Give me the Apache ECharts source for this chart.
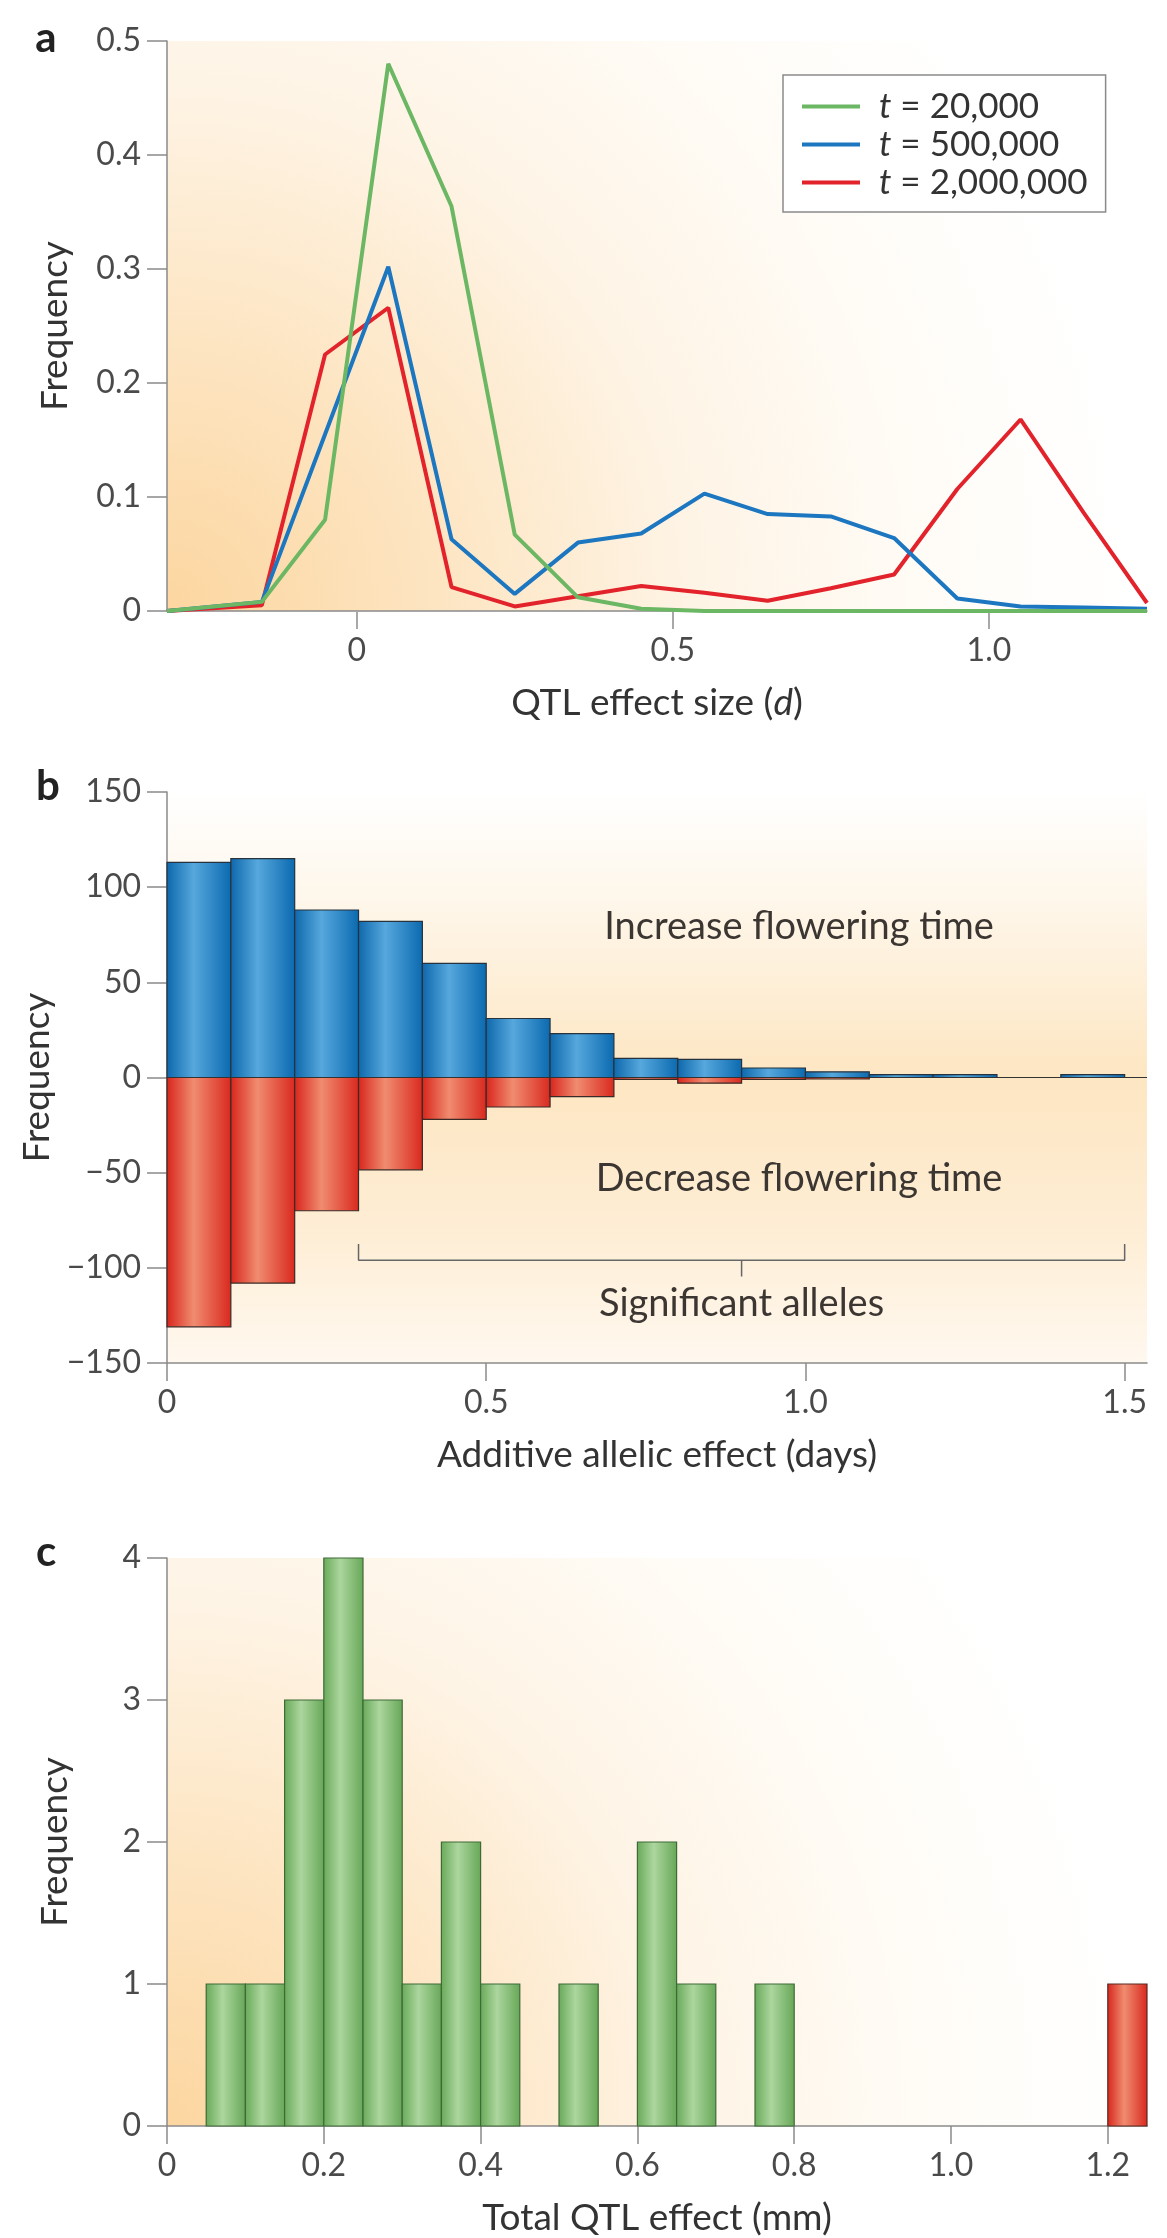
<!DOCTYPE html>
<html>
<head>
<meta charset="utf-8">
<title>QTL effect distributions</title>
<script src="https://cdn.jsdelivr.net/npm/echarts@6/dist/echarts.min.js"></script>
<style>
  html, body { margin: 0; padding: 0; background: #fff; }
  #chart { width: 1167px; height: 2238px; }
</style>
</head>
<body>
<div id="chart"></div>
<script>
// a: frequency of QTL effect sizes at three time points (bin centres)
var effectSize = [-0.3, -0.15, -0.05, 0.05, 0.15, 0.25, 0.35, 0.45, 0.55, 0.65, 0.75, 0.85, 0.95, 1.05, 1.15, 1.25];
var freqT20k  = [0, 0.008, 0.08, 0.48, 0.355, 0.067, 0.012, 0.002, 0, 0, 0, 0, 0, 0, 0, 0];
var freqT500k = [0, 0.008, 0.155, 0.302, 0.063, 0.015, 0.06, 0.068, 0.103, 0.085, 0.083, 0.064, 0.011, 0.004, 0.003, 0.002];
var freqT2m   = [0, 0.005, 0.225, 0.266, 0.021, 0.004, 0.013, 0.022, 0.016, 0.009, 0.02, 0.032, 0.107, 0.168, 0.086, 0.007];
var seriesNames = ['t = 20,000', 't = 500,000', 't = 2,000,000'];

// b: additive allelic effect histogram (bin start, width 0.1)
var allelicBinStart = [0, 0.1, 0.2, 0.3, 0.4, 0.5, 0.6, 0.7, 0.8, 0.9, 1.0, 1.1, 1.2, 1.3, 1.4];
var increaseCount = [113, 115, 88, 82, 60, 31, 23, 10, 9.5, 5, 3, 1.5, 1.5, 0, 1.5];
var decreaseCount = [-131, -108, -70, -48.5, -22, -15.5, -10, -1, -3, -1, -0.8, 0, 0, 0, 0];
var allelicBinWidth = 0.1;

// b: annotations
var noteText = ['Increase flowering time', 'Decrease flowering time', 'Significant alleles'];
var noteX = [0.99, 0.99, 0.9];
var noteY = [79, -53, -119];
var bracketX = [0.3, 0.3, 1.5, 1.5];
var bracketY = [-87.5, -96, -96, -87.5];
var bracketMidX = [0.9, 0.9];
var bracketMidY = [-96, -104.5];

// c: total QTL effect histogram (bin start, width 0.05)
var totalBinStart = [0.05, 0.1, 0.15, 0.2, 0.25, 0.3, 0.35, 0.4, 0.5, 0.6, 0.65, 0.75];
var totalCount = [1, 1, 3, 4, 3, 1, 2, 1, 1, 2, 1, 1];
var outlierBinStart = [1.2];
var outlierCount = [1];
var totalBinWidth = 0.05;

var FONT = 'Lato';
var axisGrey = '#8a8a8a';
var labelGrey = '#4a4a4a';

function pairs(xs, ys) {
  return xs.map(function (x, i) { return [x, ys[i]]; });
}

function barGradient(edge, mid, edge2) {
  return new echarts.graphic.LinearGradient(0, 0, 1, 0, [
    {offset: 0, color: edge},
    {offset: 0.42, color: mid},
    {offset: 1, color: edge2}
  ]);
}

// histogram bars drawn through the axis scales
function histogram(width, fill, stroke) {
  return function (params, api) {
    var x0 = api.value(0), v = api.value(1);
    if (!v) return;
    var p0 = api.coord([x0, 0]);
    var p1 = api.coord([x0 + width, v]);
    return {
      type: 'rect',
      shape: {x: p0[0], y: Math.min(p0[1], p1[1]), width: p1[0] - p0[0], height: Math.abs(p1[1] - p0[1])},
      style: {fill: fill, stroke: stroke, lineWidth: 1.2}
    };
  };
}

function fixed1(v) { return v === 0 ? '0' : v.toFixed(1); }
function minusFmt(v) { return v < 0 ? '\u2212' + (-v) : String(v); }

// peach glow from the lower-left corner of a plot
function peachCorner() {
  return new echarts.graphic.RadialGradient(0, 1, 1.7, [
    {offset: 0, color: '#fcd6a0'},
    {offset: 0.28, color: '#fde5c2'},
    {offset: 0.55, color: '#fef4e6'},
    {offset: 0.8, color: '#fffcf7'},
    {offset: 1, color: '#ffffff'}
  ]);
}

function baseAxisLine() {
  return {show: true, onZero: false, lineStyle: {color: axisGrey, width: 1.5}};
}

function valueAxis(gridIndex, extra) {
  var ax = {
    gridIndex: gridIndex,
    type: 'value',
    axisLine: baseAxisLine(),
    axisTick: {show: true, length: 20, lineStyle: {color: axisGrey, width: 1.5}},
    axisLabel: {fontFamily: FONT, fontSize: 32, color: labelGrey, margin: 26},
    splitLine: {show: false},
    nameLocation: 'middle',
    nameTextStyle: {fontFamily: FONT, fontSize: 37, color: '#333'}
  };
  for (var k in extra) ax[k] = extra[k];
  return ax;
}

var chart = echarts.init(document.getElementById('chart'));

chart.setOption({
  animation: false,
  backgroundColor: '#ffffff',
  textStyle: {fontFamily: FONT},
  color: ['#6cb764', '#1c77c0', '#e2232b'],
  graphic: [
    {type: 'text', x: 46, y: 38, style: {text: 'a', font: 'bold 42px Lato', fill: '#222', align: 'center', verticalAlign: 'middle'}},
    {type: 'text', x: 48, y: 786, style: {text: 'b', font: 'bold 42px Lato', fill: '#222', align: 'center', verticalAlign: 'middle'}},
    {type: 'text', x: 46, y: 1552, style: {text: 'c', font: 'bold 42px Lato', fill: '#222', align: 'center', verticalAlign: 'middle'}}
  ],
  legend: {
    orient: 'vertical',
    left: 783,
    top: 75,
    padding: [14, 18, 12, 19],
    itemWidth: 58,
    itemHeight: 4,
    itemGap: 3,
    icon: 'rect',
    borderColor: axisGrey,
    borderWidth: 1.5,
    backgroundColor: '#ffffff',
    data: seriesNames,
    formatter: function (name) { return name.replace(/^t/, '{i|t}'); },
    textStyle: {
      fontFamily: FONT, fontSize: 35, lineHeight: 35, color: '#333', padding: [0, 0, 0, 14],
      rich: {i: {fontFamily: FONT, fontSize: 35, fontStyle: 'italic', color: '#333'}}
    }
  },
  grid: [
    {left: 167, top: 41, width: 980, height: 570, show: true, borderWidth: 0, backgroundColor: peachCorner()},
    {left: 167, top: 792, width: 980, height: 571, show: true, borderWidth: 0,
      backgroundColor: new echarts.graphic.LinearGradient(0, 0, 0, 1, [
        {offset: 0, color: '#ffffff'},
        {offset: 0.2, color: '#fef6e9'},
        {offset: 0.5, color: '#fde6c2'},
        {offset: 0.78, color: '#feeed6'},
        {offset: 1, color: '#fff8ef'}
      ])},
    {left: 167, top: 1558, width: 980, height: 569, show: true, borderWidth: 0, backgroundColor: peachCorner()}
  ],
  xAxis: [
    valueAxis(0, {
      min: -0.3, max: 1.25,
      axisTick: {show: true, length: 18, customValues: [0, 0.5, 1], lineStyle: {color: '#a8a8a8', width: 2}},
      axisLabel: {customValues: [0, 0.5, 1], formatter: fixed1, fontFamily: FONT, fontSize: 32, color: labelGrey, margin: 24},
      name: 'QTL effect size ({i|d})', nameGap: 74,
      nameTextStyle: {fontFamily: FONT, fontSize: 37, color: '#333',
        rich: {i: {fontFamily: FONT, fontSize: 37, fontStyle: 'italic', color: '#333'}}}
    }),
    valueAxis(1, {
      min: 0, max: 1.535, interval: 0.5,
      axisTick: {show: true, length: 18, lineStyle: {color: axisGrey, width: 1.5}},
      axisLabel: {formatter: fixed1, fontFamily: FONT, fontSize: 32, color: labelGrey, margin: 24},
      name: 'Additive allelic effect (days)', nameGap: 74
    }),
    valueAxis(2, {
      min: 0, max: 1.25, interval: 0.2,
      axisTick: {show: true, length: 18, lineStyle: {color: axisGrey, width: 1.5}},
      axisLabel: {formatter: fixed1, fontFamily: FONT, fontSize: 32, color: labelGrey, margin: 24},
      name: 'Total QTL effect (mm)', nameGap: 74
    })
  ],
  yAxis: [
    valueAxis(0, {min: 0, max: 0.5, interval: 0.1, name: 'Frequency', nameGap: 93}),
    valueAxis(1, {min: -150, max: 150, interval: 50, name: 'Frequency', nameGap: 93,
      axisLabel: {formatter: minusFmt, fontFamily: FONT, fontSize: 32, color: labelGrey, margin: 26}}),
    valueAxis(2, {min: 0, max: 4, interval: 1, name: 'Frequency', nameGap: 93})
  ],
  series: [
    {
      name: seriesNames[2], type: 'line', xAxisIndex: 0, yAxisIndex: 0,
      data: pairs(effectSize, freqT2m), showSymbol: false, color: '#e2232b',
      lineStyle: {width: 4, color: '#e2232b'}, z: 3
    },
    {
      name: seriesNames[1], type: 'line', xAxisIndex: 0, yAxisIndex: 0,
      data: pairs(effectSize, freqT500k), showSymbol: false, color: '#1c77c0',
      lineStyle: {width: 4, color: '#1c77c0'}, z: 4
    },
    {
      name: seriesNames[0], type: 'line', xAxisIndex: 0, yAxisIndex: 0,
      data: pairs(effectSize, freqT20k), showSymbol: false, color: '#6cb764',
      lineStyle: {width: 4, color: '#6cb764'}, z: 5
    },
    {
      name: 'increase', type: 'custom', xAxisIndex: 1, yAxisIndex: 1,
      data: pairs(allelicBinStart, increaseCount),
      renderItem: histogram(allelicBinWidth, barGradient('#0d67ab', '#56a8dd', '#0b69af'), '#27323d')
    },
    {
      name: 'decrease', type: 'custom', xAxisIndex: 1, yAxisIndex: 1,
      data: pairs(allelicBinStart, decreaseCount),
      renderItem: histogram(allelicBinWidth, barGradient('#d8241b', '#f08c70', '#d9281e'), '#3a2a26')
    },
    {
      name: 'bracket', type: 'line', xAxisIndex: 1, yAxisIndex: 1,
      data: pairs(bracketX, bracketY), showSymbol: false,
      lineStyle: {width: 1.5, color: '#666'},
      markLine: {
        silent: true, symbol: 'none', label: {show: false},
        lineStyle: {color: '#333', width: 1.2, type: 'solid'},
        data: [{yAxis: 0}]
      },
      z: 4
    },
    {
      name: 'bracketMid', type: 'line', xAxisIndex: 1, yAxisIndex: 1,
      data: pairs(bracketMidX, bracketMidY), showSymbol: false,
      lineStyle: {width: 1.5, color: '#666'}
    },
    {
      name: 'notes', type: 'custom', xAxisIndex: 1, yAxisIndex: 1,
      data: pairs(noteX, noteY),
      renderItem: function (params, api) {
        var p = api.coord([api.value(0), api.value(1)]);
        return {
          type: 'text', x: p[0], y: p[1],
          style: {text: noteText[params.dataIndex], font: '38px Lato', fill: '#3b3632', align: 'center', verticalAlign: 'middle'}
        };
      },
      z: 5
    },
    {
      name: 'total', type: 'custom', xAxisIndex: 2, yAxisIndex: 2,
      data: pairs(totalBinStart, totalCount),
      renderItem: histogram(totalBinWidth, barGradient('#67a958', '#acd69e', '#66a757'), '#3f6a38')
    },
    {
      name: 'outlier', type: 'custom', xAxisIndex: 2, yAxisIndex: 2,
      data: pairs(outlierBinStart, outlierCount),
      renderItem: histogram(totalBinWidth, barGradient('#d8241b', '#f08c70', '#d9281e'), '#5a2a22')
    }
  ]
});
</script>
</body>
</html>
